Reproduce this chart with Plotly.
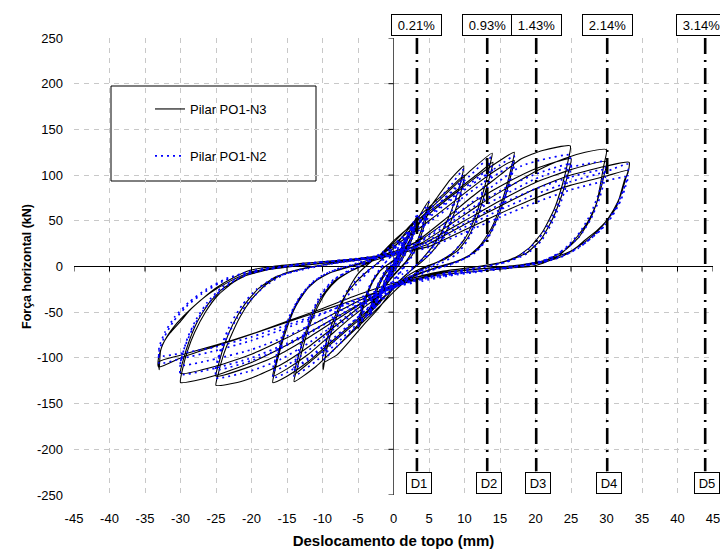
import plotly.graph_objects as go

# ---------------- data ----------------
# Pilar PO1-N3 (black, solid): (top displacement mm, horizontal force kN) along the test history
n3_points = [
    # +/-1 mm
    (0, 0), (0.5, 8), (1, 15), (0.8, 12), (0.3, 3), (-0.3, -5), (-1, -14), (-0.8, -11), (-0.3, -2), (0, 2),
    # +/-2 mm
    (0.5, 8), (1.2, 20), (2, 32), (1.8, 28), (1.2, 15), (0.3, 2), (-0.5, -8), (-1.2, -20), (-2, -33), (-1.8, -28), (-1.2, -15), (-0.3, -2), (0, 3),
    # +/-3.3 mm
    (0.5, 10), (1.5, 27), (2.5, 42), (3.3, 55), (3.1, 48), (2.4, 30), (1.3, 12), (0.3, 0), (-0.5, -10), (-1.5, -25), (-2.5, -40), (-3.3, -52), (-3.1, -45), (-2.4, -28), (-1.3, -10), (-0.3, 0), (0.2, 5),
    (1, 14), (2, 30), (3.3, 50), (3.0, 40), (2.2, 22), (1, 5), (0, -6), (-1, -16), (-2, -30), (-3.3, -48), (-3.0, -38), (-2.2, -20), (-1, -4), (0, 3),
    # +/-5 mm
    (1, 15), (2.5, 38), (4, 60), (5, 72), (4.7, 62), (4, 42), (3, 22), (1.8, 6), (0.5, -5), (-1, -18), (-2.5, -36), (-4, -55), (-5, -68), (-4.7, -58), (-4, -38), (-3, -18), (-1.8, -4), (-0.5, 4),
    (1, 12), (2.5, 32), (4, 52), (5, 65), (4.6, 52), (3.8, 32), (2.6, 12), (1.2, 0), (0, -10), (-1.5, -25), (-3, -42), (-5, -62), (-4.6, -50), (-3.8, -30), (-2.6, -11), (-1.2, 0), (0, 6),
    # +/-10 mm
    (2, 30), (4, 52), (6, 74), (8, 95), (9.9, 110), (9.7, 100), (9, 80), (8, 58), (6.8, 38), (5.5, 22), (4, 8), (2.5, -4), (1, -15), (0, -24),
    (-2, -45), (-4, -62), (-6, -80), (-8, -97), (-9.9, -106), (-9.9, -113), (-9.6, -98), (-9, -78), (-8, -55), (-7, -36), (-6, -20), (-5, -8), (-3.5, 3), (-2, 12), (0, 26),
    (2, 42), (4, 58), (6, 72), (8, 86), (10, 100), (9.7, 88), (9, 68), (8, 48), (6.8, 30), (5.3, 15), (3.8, 4), (2.2, -6), (0, -22),
    (-2, -40), (-4, -56), (-6, -72), (-8, -88), (-10, -102), (-9.7, -90), (-9, -70), (-8, -50), (-6.8, -32), (-5.3, -17), (-3.8, -6), (-2.2, 4), (0, 20),
    # +/-14 mm
    (2, 40), (5, 62), (8, 84), (11, 106), (13.9, 124), (13.6, 112), (13, 92), (12.2, 70), (11.2, 48), (10, 30), (8.5, 16), (6.5, 6), (4, -3), (2, -14), (0, -28),
    (-2, -44), (-5, -66), (-8, -88), (-11, -110), (-14, -126), (-13.6, -112), (-12.8, -90), (-12, -68), (-10.8, -46), (-9.5, -28), (-8, -15), (-6, -5), (-4, 3), (-2, 12), (0, 28),
    (3, 48), (6, 66), (9, 84), (12, 102), (14, 114), (13.6, 100), (12.8, 78), (11.8, 54), (10.5, 32), (9, 17), (7, 7), (4.5, 0), (2, -10), (0, -24),
    (-3, -46), (-6, -66), (-9, -86), (-12, -106), (-14, -118), (-13.6, -104), (-12.7, -80), (-11.6, -56), (-10.2, -34), (-8.5, -17), (-6, -5), (-3.5, 4), (-1.5, 14), (0, 24),
    # +/-17 mm
    (3, 44), (6, 64), (9, 82), (12, 100), (15, 116), (17, 125), (16.7, 112), (16, 90), (15, 65), (13.8, 42), (12.3, 24), (10.5, 11), (8, 3), (5, -4), (2, -14), (0, -24),
    (-3, -44), (-6, -64), (-9, -84), (-12, -104), (-15, -120), (-17, -127), (-16.7, -114), (-16, -92), (-15, -67), (-13.8, -44), (-12.2, -25), (-10.3, -12), (-8, -4), (-5, 3), (-2, 12), (0, 22),
    (3, 38), (6, 56), (9, 74), (12, 92), (15, 108), (17, 116), (16.6, 102), (15.8, 78), (14.7, 54), (13.3, 32), (11.5, 16), (9, 6), (6, -1), (3, -9), (0, -20),
    (-3, -38), (-6, -56), (-9, -76), (-12, -96), (-15, -112), (-17, -120), (-16.6, -106), (-15.8, -82), (-14.7, -57), (-13.2, -34), (-11.4, -18), (-9, -7), (-6, 0), (-3, 6), (0, 14),
    # +/-25 mm
    (3, 26), (7, 50), (11, 76), (15, 100), (18, 118), (21, 127), (24.9, 132), (24.6, 116), (23.8, 90), (22.6, 62), (21, 38), (19.2, 21), (17.2, 10), (14.5, 3), (11, -1), (7, -5), (3, -12), (0, -20),
    (-4, -40), (-8, -64), (-12, -88), (-16, -108), (-20, -122), (-22, -127), (-25, -130), (-24.7, -118), (-24, -98), (-23, -78), (-21.6, -55), (-20, -36), (-18, -20), (-15.5, -8), (-12, -1), (-8, 4), (-4, 9), (0, 16),
    (4, 30), (8, 52), (12, 74), (16, 92), (20, 107), (25, 118), (24.6, 102), (23.7, 78), (22.4, 52), (20.8, 30), (18.8, 15), (16, 6), (12, 0), (8, -4), (4, -10), (0, -20),
    (-4, -38), (-8, -58), (-12, -78), (-16, -96), (-20, -109), (-25, -120), (-24.6, -106), (-23.8, -85), (-22.6, -63), (-21, -42), (-19, -24), (-16.5, -11), (-13, -3), (-9, 3), (-4, 8), (0, 14),
    # +/-30 mm
    (4, 26), (8, 46), (12, 67), (16, 86), (20, 104), (24, 118), (27, 125), (30, 128), (29.6, 110), (28.6, 69), (27.3, 48), (25.8, 32), (24.3, 19), (23, 10), (20, 1), (16, -2), (12, -5), (8, -8), (4, -13), (0, -22),
    (-5, -42), (-10, -64), (-15, -86), (-20, -105), (-25, -119), (-28, -125), (-30, -127), (-29.7, -112), (-29, -92), (-28, -72), (-26.5, -50), (-24.8, -32), (-22.5, -17), (-20, -7), (-16, -1), (-11, 3), (-6, 7), (0, 14),
    (5, 28), (10, 50), (15, 72), (20, 92), (25, 106), (30, 115), (29.6, 98), (28.8, 74), (27.6, 50), (26, 31), (24, 17), (21.5, 7), (18, 1), (13, -2), (8, -6), (4, -12), (0, -20),
    (-5, -38), (-10, -58), (-15, -78), (-20, -96), (-25, -109), (-30, -117), (-29.6, -102), (-28.8, -82), (-27.6, -60), (-26, -40), (-24, -24), (-21.5, -12), (-18, -4), (-13, 1), (-8, 5), (0, 12),
    # +/-33 mm
    (5, 25), (10, 46), (15, 66), (20, 85), (25, 100), (30, 110), (33.2, 114), (33, 102), (32.6, 96), (31.4, 65), (30, 50), (28.6, 39), (27, 29), (25.8, 21), (24, 12), (22, 6.5), (19, 2), (15, -1), (10, -4), (5, -9), (0, -18),
    (-5, -31), (-10, -46), (-15, -60), (-20, -74), (-25, -87), (-30, -100), (-33.1, -110), (-33.1, -100), (-32.5, -85), (-31.5, -73), (-30, -60), (-28.7, -48), (-27, -36), (-24.9, -23), (-22.5, -12), (-20.2, -4), (-17, 0), (-12, 4), (-6, 8), (0, 14),
    (5, 22), (10, 40), (15, 58), (20, 75), (25, 89), (30, 99), (33, 105), (32.7, 96), (32, 78), (31, 62), (29.5, 45), (27.5, 30), (25, 17), (22, 8), (18, 2), (13, -2), (8, -6), (4, -12), (0, -22),
    (-5, -35), (-10, -48), (-15, -61), (-20, -74), (-25, -86), (-30, -97), (-33, -104), (-33, -113), (-32.8, -92), (-32, -78), (-30.5, -62), (-28.5, -46), (-26, -30), (-23, -16), (-20, -6), (-16, 0),
]

# Pilar PO1-N2 (blue, dotted): (top displacement mm, horizontal force kN)
n2_points = [
    # +/-0.5 and +/-1 mm
    (0, 0), (0.3, 5), (0.5, 9), (0.3, 4), (0, -1), (-0.3, -5), (-0.5, -9), (-0.3, -4), (0, 1),
    (0.5, 9), (1, 16), (0.8, 12), (0.3, 3), (-0.3, -5), (-1, -15), (-0.8, -11), (-0.3, -2), (0, 2),
    # +/-2 mm
    (0.6, 10), (1.3, 22), (2, 34), (1.8, 29), (1.1, 14), (0.3, 2), (-0.6, -10), (-1.3, -22), (-2, -34), (-1.8, -29), (-1.1, -14), (-0.3, -2), (0, 3),
    (0.7, 11), (1.4, 21), (2, 30), (1.7, 24), (1.0, 11), (0.2, 0), (-0.7, -11), (-1.4, -21), (-2, -30), (-1.7, -24), (-1.0, -10), (-0.2, 1), (0, 3),
    # +/-3.3 mm
    (0.6, 12), (1.6, 30), (2.6, 45), (3.4, 58), (3.2, 50), (2.5, 32), (1.4, 13), (0.3, 0), (-0.6, -12), (-1.6, -28), (-2.6, -43), (-3.4, -55), (-3.2, -46), (-2.5, -29), (-1.4, -11), (-0.3, 0), (0.2, 6),
    (1, 15), (2.1, 32), (3.3, 52), (3.0, 42), (2.2, 24), (1, 6), (0, -6), (-1, -17), (-2.1, -32), (-3.3, -50), (-3.0, -40), (-2.2, -21), (-1, -5), (0, 4),
    (1.2, 20), (2.4, 36), (3.3, 47), (2.9, 36), (2.0, 18), (0.8, 2), (-0.4, -12), (-1.4, -24), (-2.4, -36), (-3.3, -46), (-2.9, -34), (-2.0, -16), (-0.8, 0), (0.3, 10),
    # +/-5 mm
    (1, 18), (2.5, 40), (4, 58), (5, 70), (4.7, 60), (4, 40), (3, 20), (1.8, 4), (0.5, -10), (-1, -24), (-2.5, -40), (-4, -55), (-5, -66), (-4.7, -56), (-4, -36), (-3, -17), (-1.8, -2), (-0.5, 10),
    (1, 22), (2.5, 38), (4, 52), (5, 62), (4.6, 50), (3.8, 30), (2.6, 11), (1.2, -4), (0, -16), (-1.5, -30), (-3, -45), (-5, -60), (-4.6, -48), (-3.8, -28), (-2.6, -10), (-1.2, 4), (0, 14),
    # +/-10 mm
    (2, 34), (4, 52), (6, 70), (8, 88), (9.8, 106), (9.6, 96), (8.9, 76), (7.9, 54), (6.7, 34), (5.3, 19), (3.8, 6), (2.2, -6), (0.8, -16), (-0.5, -26),
    (-2, -40), (-4, -56), (-6, -72), (-8, -88), (-9.9, -102), (-9.7, -92), (-9, -74), (-8, -54), (-6.8, -36), (-5.4, -21), (-3.8, -8), (-2.2, 4), (-0.8, 14), (0, 22),
    (2, 38), (4, 52), (6, 66), (8, 81), (10, 96), (9.7, 84), (9, 64), (7.9, 44), (6.6, 27), (5, 13), (3.2, 2), (1.3, -8), (0, -18),
    (-2, -34), (-4, -48), (-6, -63), (-8, -79), (-10, -95), (-9.7, -84), (-9, -64), (-7.9, -44), (-6.6, -27), (-5, -13), (-3.2, -2), (-1.3, 8), (0, 18),
    # +/-14 mm
    (2, 36), (5, 58), (8, 80), (11, 101), (13.6, 120), (13.3, 108), (12.7, 88), (11.9, 66), (10.9, 44), (9.7, 27), (8.2, 14), (6.2, 4), (3.8, -5), (1.5, -16), (0, -24),
    (-2, -40), (-5, -62), (-8, -84), (-11, -104), (-14, -120), (-13.7, -108), (-13, -88), (-12.1, -66), (-11, -44), (-9.7, -26), (-8.1, -13), (-6, -3), (-3.5, 6), (-1.5, 16), (0, 24),
    (3, 44), (6, 62), (9, 80), (12, 98), (14, 110), (13.6, 96), (12.8, 74), (11.8, 50), (10.4, 28), (8.8, 13), (6.8, 4), (4, -4), (2, -12), (0, -22),
    (-3, -42), (-6, -62), (-9, -82), (-12, -100), (-14, -112), (-13.6, -98), (-12.7, -76), (-11.6, -52), (-10.2, -30), (-8.4, -14), (-6, -4), (-3.5, 5), (-1.5, 13), (0, 20),
    # +/-17 mm
    (3, 40), (6, 60), (9, 78), (12, 95), (15, 111), (17, 121), (16.7, 108), (16, 86), (15, 62), (13.8, 40), (12.2, 22), (10.3, 10), (8, 2), (5, -5), (2, -15), (0, -24),
    (-3, -42), (-6, -62), (-9, -82), (-12, -102), (-15, -116), (-17, -122), (-16.7, -110), (-16, -88), (-15, -64), (-13.8, -42), (-12.2, -24), (-10.3, -11), (-8, -3), (-5, 4), (-2, 12), (0, 20),
    (3, 36), (6, 54), (9, 71), (12, 88), (15, 103), (17, 112), (16.6, 98), (15.8, 75), (14.7, 52), (13.3, 31), (11.5, 15), (9, 5), (6, -2), (3, -9), (0, -20),
    (-3, -36), (-6, -54), (-9, -72), (-12, -92), (-15, -108), (-17, -114), (-16.6, -100), (-15.8, -78), (-14.7, -55), (-13.2, -33), (-11.4, -17), (-9, -6), (-6, 1), (-3, 7), (0, 14),
    # +/-25 mm
    (3, 24), (7, 46), (11, 70), (15, 94), (18, 110), (21, 117), (24.9, 122), (24.6, 108), (23.8, 84), (22.6, 58), (21, 36), (19.2, 20), (17.2, 9), (14.5, 2), (11, -3), (7, -8), (3, -15), (0, -22),
    (-4, -40), (-8, -62), (-12, -84), (-16, -102), (-20, -114), (-25, -122), (-25, -112), (-24.4, -95), (-23.4, -76), (-22, -56), (-20.3, -38), (-18.2, -22), (-15.5, -9), (-12, -2), (-8, 4), (-4, 9), (0, 15),
    (4, 28), (8, 48), (12, 69), (16, 87), (20, 101), (25, 112), (24.6, 96), (23.7, 73), (22.4, 49), (20.8, 28), (18.8, 14), (16, 5), (12, -1), (8, -6), (4, -13), (0, -21),
    (-4, -37), (-8, -55), (-12, -74), (-16, -90), (-20, -103), (-25, -113), (-24.7, -100), (-24, -82), (-22.9, -62), (-21.3, -42), (-19.3, -25), (-16.7, -12), (-13, -3), (-9, 3), (-4, 8), (0, 13),
    # +/-30 mm
    (4, 24), (8, 43), (12, 63), (16, 80), (20, 96), (24, 107), (27, 112), (30, 115), (29.7, 104), (29, 82), (27.8, 58), (26.3, 38), (24.6, 23), (22.8, 12), (20, 3), (16, -2), (12, -6), (8, -10), (4, -16), (0, -23),
    (-5, -43), (-10, -64), (-15, -84), (-20, -100), (-25, -111), (-30, -118), (-30, -105), (-29.4, -88), (-28.3, -68), (-26.8, -48), (-25, -31), (-22.7, -17), (-20, -7), (-16, -1), (-11, 4), (-6, 8), (0, 14),
    (5, 27), (10, 47), (15, 68), (20, 85), (25, 98), (30, 106), (29.7, 94), (29, 74), (27.8, 52), (26.2, 33), (24.2, 19), (21.6, 8), (18, 1), (13, -4), (8, -9), (4, -14), (0, -22),
    (-5, -39), (-10, -58), (-15, -76), (-20, -91), (-25, -101), (-30, -108), (-29.7, -96), (-29, -78), (-27.8, -58), (-26.2, -39), (-24.2, -23), (-21.6, -11), (-18, -3), (-13, 2), (-8, 6), (0, 12),
    # +/-33 mm
    (5, 24), (10, 43), (15, 62), (20, 79), (25, 93), (30, 104), (33, 112), (33, 100), (32.4, 84), (31.3, 64), (29.8, 46), (28, 32), (26, 20), (23.5, 10), (20, 3), (15, -2), (10, -6), (5, -11), (0, -20),
    (-5, -35), (-10, -52), (-15, -67), (-20, -81), (-25, -92), (-30, -101), (-33, -106), (-33, -92), (-32.2, -76), (-31, -60), (-29.2, -44), (-27, -30), (-24.5, -18), (-21.5, -8), (-18, -2), (-13, 3), (-7, 7), (0, 12),
    (5, 21), (10, 37), (15, 54), (20, 70), (25, 84), (30, 94), (33, 98), (32.7, 88), (32, 72), (30.8, 55), (29.2, 40), (27.2, 27), (24.8, 15), (21.5, 6), (17, 0), (12, -5), (7, -10), (3, -16), (0, -23),
    (-5, -37), (-10, -51), (-15, -64), (-20, -77), (-25, -88), (-30, -95), (-33, -98), (-33, -88), (-32.2, -72), (-30.8, -55), (-28.8, -39), (-26.4, -25), (-23.5, -13), (-20, -5), (-16, 0),
]

series_names = ["Pilar PO1-N3", "Pilar PO1-N2"]

# Reference displacement levels (dash-dot lines) with drift labels and D labels
level_disp = [3.3, 13.2, 20.1, 30.1, 43.9]
drift_labels = ["0.21%", "0.93%", "1.43%", "2.14%", "3.14%"]
level_labels = ["D1", "D2", "D3", "D4", "D5"]

x_ticks = list(range(-45, 50, 5))
y_ticks = list(range(-250, 300, 50))

# ---------------- figure ----------------
FONT = "Arial, 'Liberation Sans', Helvetica, sans-serif"
# the page places the figure 8 px in from the window corner
FIG_W, FIG_H = 720, 542
L, R, T, B = 66, 15, 30, 55
PW, PH = FIG_W - L - R, FIG_H - T - B
OFF = 8  # page offset, used to convert reference window pixels to figure pixels

n3_disp = [p[0] for p in n3_points]
n3_force = [p[1] for p in n3_points]
n2_disp = [p[0] for p in n2_points]
n2_force = [p[1] for p in n2_points]

fig = go.Figure()

fig.add_trace(go.Scatter(
    x=n3_disp, y=n3_force, mode="lines", name=series_names[0],
    line=dict(color="#000000", width=1.1, shape="spline", smoothing=0.5),
    legendgroup="a",
))
fig.add_trace(go.Scatter(
    x=n2_disp, y=n2_force, mode="lines", name=series_names[1],
    line=dict(color="#0000FF", width=1.7, dash="2px,4px", shape="spline", smoothing=0.5),
    legendgroup="b",
))

# dash-dot reference lines
for d in level_disp:
    fig.add_trace(go.Scatter(
        x=[d, d], y=[250, -224], mode="lines", showlegend=False, hoverinfo="skip",
        line=dict(color="#000000", width=2.6, dash="16px,6px,2px,6px"),
    ))

annotations = []
for d, lab in zip(level_disp, drift_labels):
    annotations.append(dict(
        x=d, xref="x", y=1, yref="paper", yanchor="bottom", yshift=2,
        xshift=(-4 if d > 40 else 0),
        text=lab, showarrow=False, font=dict(family=FONT, size=13, color="#000"),
        bgcolor="#FFFFFF", bordercolor="#000000", borderwidth=1, borderpad=2,
        width=45, height=16,
    ))
for d, lab in zip(level_disp, level_labels):
    annotations.append(dict(
        x=d, xref="x", y=-250, yref="y", yanchor="bottom", xshift=2, yshift=1,
        text=lab, showarrow=False, font=dict(family=FONT, size=13, color="#000"),
        bgcolor="#FFFFFF", bordercolor="#000000", borderwidth=1, borderpad=2,
        width=20, height=16,
    ))

shapes = []
# tick marks along the zero lines
for v in x_ticks:
    shapes.append(dict(type="line", xref="x", yref="y", x0=v, x1=v,
                       ysizemode="pixel", yanchor=0, y0=0, y1=-5,
                       line=dict(color="#000", width=1)))
for v in y_ticks:
    shapes.append(dict(type="line", xref="x", yref="y", y0=v, y1=v,
                       xsizemode="pixel", xanchor=0, x0=-5, x1=0,
                       line=dict(color="#000", width=1)))
# legend frame (reference window pixels: x 111-316, y 86-181)
shapes.append(dict(type="rect", xref="paper", yref="paper",
                   x0=(111 - OFF - L) / PW, x1=(316 - OFF - L) / PW,
                   y0=(FIG_H - B - (181 - OFF)) / PH, y1=(FIG_H - B - (86 - OFF)) / PH,
                   line=dict(color="#000", width=1), fillcolor="#FFFFFF", layer="below"))

fig.update_layout(
    width=FIG_W, height=FIG_H,
    margin=dict(l=L, r=R, t=T, b=B, autoexpand=False),
    paper_bgcolor="#FFFFFF", plot_bgcolor="#FFFFFF",
    font=dict(family=FONT, size=13, color="#000"),
    showlegend=True,
    legend=dict(
        x=(150 - OFF - L) / PW, xanchor="left", y=(FIG_H - B - (94 - OFF)) / PH, yanchor="top",
        bgcolor="rgba(0,0,0,0)", borderwidth=0, traceorder="grouped", tracegroupgap=27,
        font=dict(family=FONT, size=13, color="#000"),
    ),
    annotations=annotations,
    shapes=shapes,
    xaxis=dict(
        range=[-45, 45], tickmode="array", tickvals=x_ticks, ticktext=[str(v) for v in x_ticks],
        showgrid=True, gridcolor="#C8C8C8", gridwidth=1, griddash="5px,5px",
        zeroline=True, zerolinecolor="#555555", zerolinewidth=1.3,
        showline=False, ticks="", ticklabelstandoff=14, automargin=False,
        tickfont=dict(family=FONT, size=13, color="#000"),
        title=dict(text="<b>Deslocamento de topo (mm)</b>", font=dict(family=FONT, size=15, color="#000"), standoff=10),
    ),
    yaxis=dict(
        range=[-250, 250], tickmode="array", tickvals=y_ticks, ticktext=[str(v) for v in y_ticks],
        showgrid=True, gridcolor="#C8C8C8", gridwidth=1, griddash="5px,5px",
        zeroline=True, zerolinecolor="#000000", zerolinewidth=1.3,
        showline=False, ticks="", ticklabelstandoff=10, automargin=False,
        tickfont=dict(family=FONT, size=13, color="#000"),
        title=dict(text="<b>Força horizontal (kN)</b>", font=dict(family=FONT, size=12.5, color="#000"), standoff=2),
    ),
)

fig.write_html("out.html")
